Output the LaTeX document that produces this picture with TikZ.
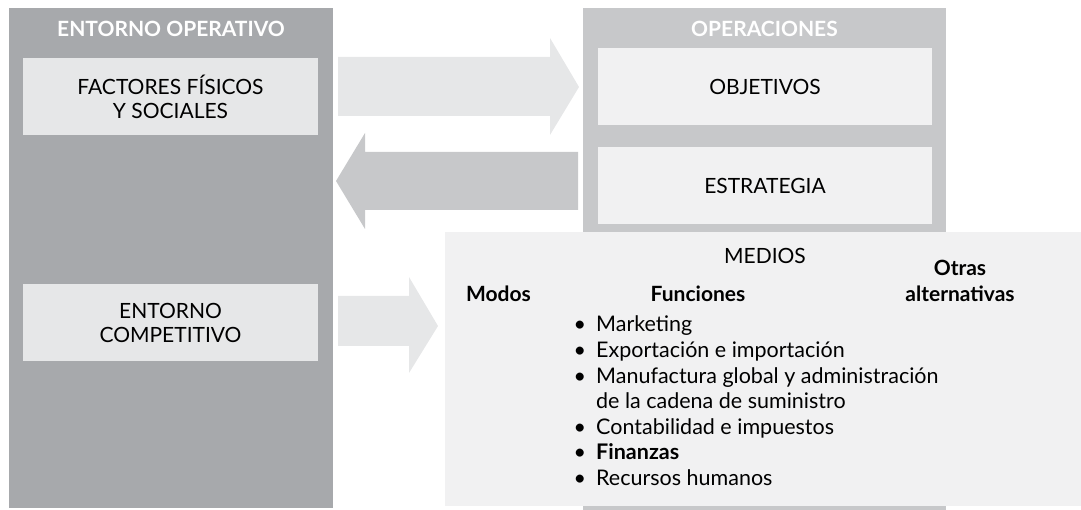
\documentclass[tikz,border=0pt]{standalone}
\usepackage{fontspec}
\setmainfont{Lato}
\usepackage{xcolor}
\usetikzlibrary{positioning}
\definecolor{envdark}{HTML}{A7A9AC}
\definecolor{opgray}{HTML}{C7C8CA}
\definecolor{boxlight}{HTML}{E6E7E8}
\definecolor{boxpale}{HTML}{F1F1F2}
\tikzset{
  panel title/.style={
    text=white,
    font=\fontsize{21}{24}\selectfont\bfseries,
    inner sep=0pt
  },
  env box/.style={
    fill=boxlight,
    minimum width=295pt,
    minimum height=77pt,
    align=center,
    inner sep=0pt,
    font=\fontsize{21}{24}\selectfont
  },
  op box/.style={
    env box,
    fill=boxpale,
    minimum width=334pt
  },
  col head/.style={
    font=\fontsize{21}{26}\selectfont\bfseries,
    inner sep=0pt,
    align=center
  },
  item/.style={
    anchor=base west,
    inner sep=0pt,
    font=\fontsize{21.5}{25}\selectfont
  }
}
\newcommand{\bul}{\llap{\textbullet\hspace{10pt}}}

\begin{document}
\begin{tikzpicture}[x=1pt,y=-1pt]
  \useasboundingbox (0,0) rectangle (1081,510);

  % Panels
  \fill[envdark] (9,8) rectangle (333,508);
  \fill[opgray] (583,8) rectangle (946,510);
  \node[panel title] (entorno) at (171,29) {ENTORNO OPERATIVO};
  \node[panel title] (operaciones) at (764.5,29) {OPERACIONES};

  % Boxes
  \node[env box] (factores) at (170.5,96.5) {FACTORES FÍSICOS\\Y SOCIALES};
  \node[env box] (competitivo) at (170.5,322.5) {ENTORNO\\COMPETITIVO};
  \node[op box] (objetivos) at (765,87) {OBJETIVOS};
  \node[op box] (estrategia) at (765,186) {ESTRATEGIA};

  % Arrows
  \fill[boxlight] (338,57) -- (550,57) -- (550,38) -- (579,87)
    -- (550,135) -- (550,116) -- (338,116) -- cycle;
  \fill[opgray] (578,152) -- (365,152) -- (365,133) -- (336,181)
    -- (365,229) -- (365,210) -- (578,210) -- cycle;
  \fill[boxlight] (338,296) -- (409,296) -- (409,277) -- (438,326)
    -- (409,373) -- (409,346) -- (338,346) -- cycle;

  % Medios
  \node[fill=boxpale, minimum width=636pt, minimum height=274pt,
    inner sep=0pt] (medios) at (763,369) {};
  \node[anchor=base, inner sep=0pt, font=\fontsize{21}{24}\selectfont]
    (mediostitle) at (765,264) {MEDIOS};
  \node[col head, anchor=base] (modos) at (498.5,302) {Modos};
  \node[col head, anchor=base] (funciones) at (698,302) {Funciones};
  \node[col head, anchor=base] (otras) at (960,302) {Otras\\alternativas};

  \node[item] (fun1) at (596,332) {\bul Marketing};
  \node[item] (fun2) at (596,357.5) {\bul Exportación e importación};
  \node[item] (fun3) at (596,383) {\bul Manufactura global y administración};
  \node[item] (fun4) at (596,408.5) {de la cadena de suministro};
  \node[item] (fun5) at (596,434) {\bul Contabilidad e impuestos};
  \node[item] (fun6) at (596,459.5) {\bul\textbf{Finanzas}};
  \node[item] (fun7) at (596,485) {\bul Recursos humanos};
\end{tikzpicture}
\end{document}
